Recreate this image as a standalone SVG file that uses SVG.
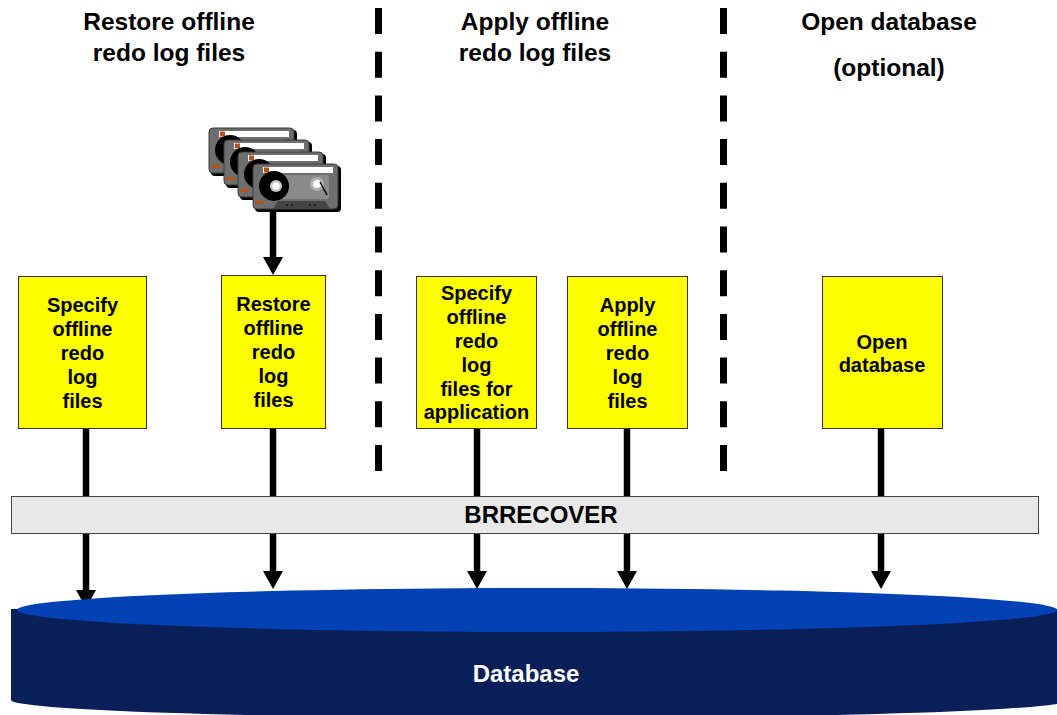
<svg xmlns="http://www.w3.org/2000/svg" xmlns:xlink="http://www.w3.org/1999/xlink" width="1057" height="715" viewBox="0 0 1057 715">
  <style>
    .title { font-family: "Liberation Sans", Arial, sans-serif; font-weight: bold; font-size: 24.5px; fill: #000; text-anchor: middle; }
    .step { fill: #ffff00; stroke: #333; stroke-width: 1; }
    .steptext { font-family: "Liberation Sans", Arial, sans-serif; font-weight: bold; font-size: 20px; fill: #000; text-anchor: middle; }
    .bartext { font-family: "Liberation Sans", Arial, sans-serif; font-weight: bold; font-size: 24px; fill: #000; text-anchor: middle; }
    .dbtext { font-family: "Liberation Sans", Arial, sans-serif; font-weight: bold; font-size: 24px; fill: #fff; text-anchor: middle; }
    .stem { stroke: #000; stroke-width: 6.5; fill: none; }
    .head { fill: #000; }
    .divider { stroke: #000; stroke-width: 7; stroke-dasharray: 26 17.7; fill: none; }
  </style>
  <defs>
    <!-- one tape cassette, 86 x 46 -->
    <g id="cassette">
      <rect x="2" y="2" width="86" height="46" rx="4" fill="#000"/>
      <rect x="0" y="0" width="85" height="45" rx="4" fill="#6e6e6e" stroke="#3a3a3a" stroke-width="1"/>
      <rect x="10" y="3" width="70" height="6" fill="#fff"/>
      <rect x="11" y="3.5" width="5" height="5" fill="#b4521c"/>
      <rect x="22" y="11" width="54" height="24" rx="2" fill="#8a8a8a"/>
      <circle cx="21" cy="22" r="15" fill="#000"/>
      <circle cx="23" cy="22" r="6" fill="#c8c8c8"/>
      <circle cx="23" cy="22" r="3.5" fill="#fff"/>
      <circle cx="64" cy="20" r="7" fill="#b0b0b0"/>
      <circle cx="64" cy="20" r="4" fill="#fff"/>
      <line x1="67" y1="18" x2="74" y2="31" stroke="#000" stroke-width="1.5"/>
      <polygon points="20,45 25,37 72,37 77,45" fill="#444"/>
      <circle cx="34" cy="41" r="0.9" fill="#111"/>
      <circle cx="39" cy="41" r="0.9" fill="#111"/>
      <circle cx="57" cy="41" r="0.9" fill="#111"/>
      <circle cx="62" cy="41" r="0.9" fill="#111"/>
      <rect x="2" y="37" width="9" height="3" fill="#b4521c"/>
    </g>
    <path id="arrowhead" d="M-10,0 L10,0 L0,18 Z"/>
  </defs>

  <!-- phase headings -->
  <g id="headings">
    <text class="title" x="169" y="30">Restore offline</text>
    <text class="title" x="169" y="61">redo log files</text>
    <text class="title" x="535" y="30">Apply offline</text>
    <text class="title" x="535" y="61">redo log files</text>
    <text class="title" x="889" y="30">Open database</text>
    <text class="title" x="889" y="76">(optional)</text>
  </g>

  <!-- phase dividers -->
  <g id="dividers">
    <line class="divider" x1="378.5" y1="8" x2="378.5" y2="472"/>
    <line class="divider" x1="723.5" y1="8" x2="723.5" y2="472"/>
  </g>

  <!-- tape stack -->
  <g id="tapes">
    <use xlink:href="#cassette" x="209" y="128"/>
    <use xlink:href="#cassette" x="224" y="140"/>
    <use xlink:href="#cassette" x="238" y="152"/>
    <use xlink:href="#cassette" x="253" y="164"/>
  </g>

  <!-- connectors -->
  <g id="connectors">
    <line class="stem" x1="273" y1="211" x2="273" y2="260"/>
    <use xlink:href="#arrowhead" class="head" x="273" y="257"/>

    <line class="stem" x1="86" y1="428" x2="86" y2="497"/>
    <line class="stem" x1="86" y1="532" x2="86" y2="592"/>
    <use xlink:href="#arrowhead" class="head" x="86" y="590"/>

    <line class="stem" x1="273" y1="428" x2="273" y2="497"/>
    <line class="stem" x1="273" y1="532" x2="273" y2="573"/>
    <use xlink:href="#arrowhead" class="head" x="273" y="571"/>

    <line class="stem" x1="477" y1="428" x2="477" y2="497"/>
    <line class="stem" x1="477" y1="532" x2="477" y2="573"/>
    <use xlink:href="#arrowhead" class="head" x="477" y="571"/>

    <line class="stem" x1="627" y1="428" x2="627" y2="497"/>
    <line class="stem" x1="627" y1="532" x2="627" y2="573"/>
    <use xlink:href="#arrowhead" class="head" x="627" y="571"/>

    <line class="stem" x1="881" y1="428" x2="881" y2="497"/>
    <line class="stem" x1="881" y1="532" x2="881" y2="573"/>
    <use xlink:href="#arrowhead" class="head" x="881" y="571"/>
  </g>

  <!-- step boxes -->
  <g id="step-specify">
    <rect class="step" x="18.5" y="276.5" width="128" height="152"/>
    <text class="steptext" x="82.5" y="312">Specify</text>
    <text class="steptext" x="82.5" y="336">offline</text>
    <text class="steptext" x="82.5" y="360">redo</text>
    <text class="steptext" x="82.5" y="384">log</text>
    <text class="steptext" x="82.5" y="408">files</text>
  </g>
  <g id="step-restore">
    <rect class="step" x="221.5" y="275.5" width="104" height="153"/>
    <text class="steptext" x="273.5" y="311">Restore</text>
    <text class="steptext" x="273.5" y="335">offline</text>
    <text class="steptext" x="273.5" y="359">redo</text>
    <text class="steptext" x="273.5" y="383">log</text>
    <text class="steptext" x="273.5" y="407">files</text>
  </g>
  <g id="step-specify-apply">
    <rect class="step" x="416.5" y="276.5" width="120" height="152"/>
    <text class="steptext" x="476.5" y="300">Specify</text>
    <text class="steptext" x="476.5" y="324">offline</text>
    <text class="steptext" x="476.5" y="348">redo</text>
    <text class="steptext" x="476.5" y="372">log</text>
    <text class="steptext" x="476.5" y="396">files for</text>
    <text class="steptext" x="476.5" y="419">application</text>
  </g>
  <g id="step-apply">
    <rect class="step" x="567.5" y="276.5" width="120" height="152"/>
    <text class="steptext" x="627.5" y="312">Apply</text>
    <text class="steptext" x="627.5" y="336">offline</text>
    <text class="steptext" x="627.5" y="360">redo</text>
    <text class="steptext" x="627.5" y="384">log</text>
    <text class="steptext" x="627.5" y="408">files</text>
  </g>
  <g id="step-open">
    <rect class="step" x="822.5" y="276.5" width="120" height="152"/>
    <text class="steptext" x="882" y="349">Open</text>
    <text class="steptext" x="882" y="372">database</text>
  </g>

  <!-- BRRECOVER bar -->
  <g id="brrecover">
    <rect x="11.5" y="496.5" width="1027" height="37" fill="#e8e8e8" stroke="#444" stroke-width="1"/>
    <text class="bartext" x="541" y="523">BRRECOVER</text>
  </g>

  <!-- database cylinder -->
  <g id="database">
    <path d="M11,609 V700 A530,18 0 0 0 1071,700 V609 Z" fill="#0a1e57"/>
    <ellipse cx="537" cy="610" rx="520" ry="22" fill="#0341b4"/>
    <text class="dbtext" x="526" y="682">Database</text>
  </g>
</svg>
